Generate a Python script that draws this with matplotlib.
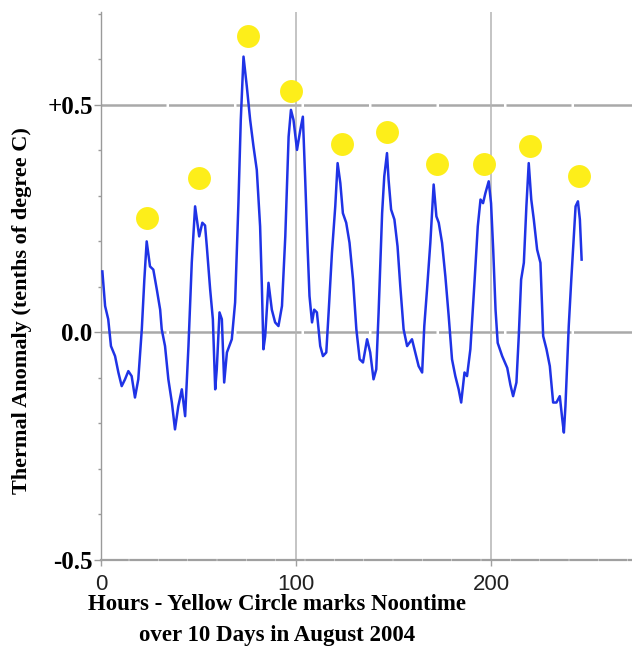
import matplotlib
matplotlib.use("Agg")
from matplotlib import pyplot as plt
from matplotlib.ticker import MultipleLocator

# hourly thermal anomaly trace
hours = [0.7, 2.1, 3.7, 5.1, 7.2, 8.9, 10.6, 12.3, 14.0, 15.7, 17.4, 19.1, 20.9, 22.2, 23.4,
         25.1, 26.8, 28.6, 30.3, 31.1, 32.8, 34.5, 36.3, 37.9, 39.6, 41.4, 43.1, 44.8, 46.5,
         48.2, 50.3, 51.9, 53.3, 54.2, 55.9, 57.3, 58.5, 59.3, 60.7, 61.9, 63.1, 64.5, 67.0,
         68.7, 70.4, 71.6, 73.0, 74.7, 76.4, 78.1, 79.8, 81.5, 82.4, 83.2, 84.1, 85.8, 87.5,
         89.2, 90.9, 92.7, 94.4, 96.1, 97.3, 98.6, 100.4, 102.1, 103.4, 104.6, 105.8, 106.8,
         108.1, 109.2, 110.6, 112.3, 113.7, 115.4, 116.6, 118.3, 120.0, 121.2, 122.6, 123.9,
         125.6, 127.3, 129.1, 130.8, 132.5, 134.2, 136.3, 137.9, 139.6, 141.0, 142.2, 144.0,
         145.1, 146.5, 147.3, 148.6, 150.3, 151.9, 153.3, 155.0, 156.8, 159.3, 161.0, 162.7,
         164.5, 165.6, 167.0, 168.7, 170.4, 171.8, 173.0, 174.7, 176.4, 178.1, 179.8, 181.5,
         183.2, 184.5, 186.2, 187.5, 189.2, 191.3, 193.0, 194.4, 195.7, 196.9, 198.6, 199.8,
         200.9, 202.1, 203.2, 205.5, 208.1, 209.7, 211.1, 212.8, 214.0, 215.2, 216.6, 217.9,
         219.1, 220.4, 221.7, 223.4, 225.1, 226.5, 228.2, 229.9, 231.6, 233.3, 235.0, 236.3,
         237.1, 237.9, 239.6, 240.9, 242.2, 243.1, 244.3, 245.3, 246.2]
anomaly = [0.134, 0.058, 0.029, -0.030, -0.052, -0.088, -0.118, -0.103, -0.085, -0.096, -0.143,
           -0.103, 0.007, 0.116, 0.200, 0.145, 0.138, 0.094, 0.050, 0.007, -0.030, -0.103,
           -0.154, -0.213, -0.162, -0.125, -0.184, -0.030, 0.154, 0.277, 0.211, 0.241, 0.235,
           0.189, 0.095, 0.029, -0.125, -0.081, 0.044, 0.029, -0.110, -0.044, -0.015, 0.066,
           0.285, 0.467, 0.606, 0.540, 0.467, 0.409, 0.357, 0.233, 0.102, -0.037, -0.008,
           0.109, 0.050, 0.022, 0.014, 0.058, 0.211, 0.430, 0.489, 0.467, 0.401, 0.445, 0.474,
           0.336, 0.189, 0.080, 0.022, 0.050, 0.044, -0.030, -0.052, -0.044, 0.044, 0.175,
           0.277, 0.372, 0.328, 0.262, 0.241, 0.197, 0.116, 0.007, -0.059, -0.066, -0.015,
           -0.044, -0.103, -0.081, 0.044, 0.262, 0.343, 0.394, 0.336, 0.270, 0.248, 0.189,
           0.102, 0.007, -0.030, -0.015, -0.044, -0.074, -0.088, 0.014, 0.094, 0.197, 0.325,
           0.255, 0.241, 0.197, 0.123, 0.036, -0.059, -0.096, -0.125, -0.154, -0.088, -0.096,
           -0.037, 0.109, 0.233, 0.292, 0.284, 0.306, 0.332, 0.284, 0.182, 0.050, -0.023,
           -0.052, -0.078, -0.115, -0.140, -0.110, -0.008, 0.116, 0.153, 0.277, 0.372, 0.292,
           0.248, 0.182, 0.153, -0.008, -0.037, -0.074, -0.154, -0.154, -0.140, -0.191, -0.220,
           -0.162, 0.014, 0.116, 0.211, 0.277, 0.288, 0.248, 0.160]

# yellow noon markers
noon_hours = [23.7, 50.3, 75.5, 97.3, 123.4, 146.5, 172.1, 196.1, 219.5, 245.1]
noon_marks = [0.251, 0.339, 0.651, 0.531, 0.414, 0.440, 0.370, 0.370, 0.410, 0.344]

y_ticks = [-0.5, 0.0, 0.5]
y_tick_labels = ["-0.5", "0.0", "+0.5"]
x_ticks = [0, 100, 200]

serif = ["Liberation Serif", "DejaVu Serif"]
narrow = ["Liberation Sans Narrow", "Liberation Sans", "DejaVu Sans"]

fig = plt.figure(figsize=(6.32, 6.55), dpi=100)
ax = fig.add_axes([101 / 632, 1 - 560 / 655, 1 - 101 / 632, (560 - 12) / 655])

#grid lines first so the trace sits on top
for yv in [0.0, 0.5]:
    ax.axhline(yv, color="#a9a9a9", lw=1.8, ls=(0, (26, 1)), zorder=1)
for xv in [100, 200]:
    ax.axvline(xv, color="#b4b4b4", lw=1.1, zorder=1)

ax.plot(hours, anomaly, color="#1f33e6", lw=1.8, zorder=3)
ax.plot(noon_hours, noon_marks, "o", ls="none", color="#fdee1a", markersize=16.5,
        markeredgewidth=0, zorder=4)

ax.set_xlim(0, 272)
ax.set_ylim(-0.5, 0.704)

for s in ["top", "right"]:
    ax.spines[s].set_visible(False)
ax.spines["left"].set_color("#9a9a9a")
ax.spines["left"].set_linewidth(1.0)
ax.spines["bottom"].set_color("#a0a0a0")
ax.spines["bottom"].set_linewidth(1.6)
ax.spines["bottom"].set_linestyle((0, (12, 1.2)))

ax.set_yticks(y_ticks)
ax.set_yticklabels(y_tick_labels, fontfamily=serif, fontweight="bold", fontsize=18)
ax.yaxis.set_minor_locator(MultipleLocator(0.1))
ax.tick_params(axis="y", which="major", length=5, width=1, color="#9a9a9a", pad=1)
ax.tick_params(axis="y", which="minor", length=2.5, width=1, color="#9a9a9a")

ax.set_xticks(x_ticks)
ax.set_xticklabels([str(v) for v in x_ticks], fontfamily=narrow, fontsize=16, color="#222222")
ax.tick_params(axis="x", length=4, width=1, color="#a0a0a0", pad=6)

fig.text(22 / 632, 1 - 311 / 655, "Thermal Anomaly (tenths of degree C)", rotation=90,
         ha="center", va="center", fontfamily=serif, fontweight="bold", fontsize=16)
fig.text(277 / 632, 1 - 620 / 655, "Hours - Yellow Circle marks Noontime\nover 10 Days in August 2004",
         ha="center", va="center", multialignment="center", linespacing=1.6,
         fontfamily=serif, fontweight="bold", fontsize=16.5)

fig.savefig("out.png", dpi=100)
